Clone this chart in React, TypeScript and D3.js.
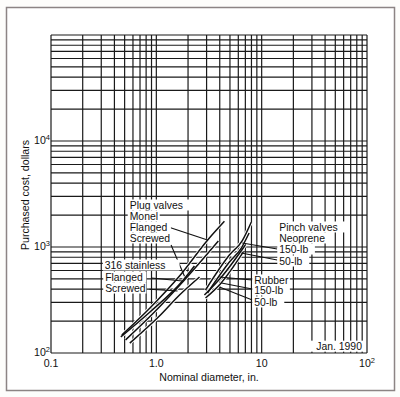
import React from "react";
import * as d3 from "d3";

const W = 400, H = 397;
const M = { left: 51, right: 33, top: 35, bottom: 44 };
const xDomain = [0.1, 100];
const yDomain = [100, 100000];

const monelFlanged: [number, number][] = [[0.47,148],[0.87,266],[1.66,532],[3.06,1160],[4.43,1750]];
const monelScrewed: [number, number][] = [[0.51,133],[0.96,244],[1.85,489],[3.88,1140]];
const ssFlanged: [number, number][] = [[0.46,142],[0.87,244],[1.77,478],[2.3,662]];
const ssScrewed: [number, number][] = [[0.56,124],[1.07,223],[1.66,352],[2.57,521]];
const neo150: [number, number][] = [[2.93,393],[4.94,840],[6.55,1150],[7.98,1722]];
const neo50: [number, number][] = [[3.06,368],[4.94,721],[6.41,978],[7.6,1355]];
const rub150: [number, number][] = [[2.86,352],[4.15,521],[7.0,1045]];
const rub50: [number, number][] = [[2.93,330],[4.05,448],[6.7,898]];
const series = [monelFlanged, monelScrewed, ssFlanged, ssScrewed, neo150, neo50, rub150, rub50];

// labels: text, x (data), y (data), anchor
const labelText = ["Plug valves","Monel","Flanged","Screwed","316 stainless","Flanged","Screwed","Pinch valves","Neoprene","150-lb","50-lb","Rubber","150-lb","50-lb","Jan. 1990"];
const labelX = [0.559,0.559,0.559,0.559,0.324,0.327,0.327,14.7,14.7,14.7,14.7,8.51,8.51,8.51,89.5];
const labelY = [2490,1961,1545,1217,676,521,410,1545,1217,957,738,489,393,303,116];
const labelAnchor = ["start","start","start","start","start","start","start","start","start","start","start","start","start","start","end"];

// leaders: [x0,y0,x1,y1] in data units
const leaders: [number, number, number, number][] = [
  [1.3,1545,3.06,1164],
  [1.38,1045,1.85,530],
  [0.9,510,1.77,478],
  [0.86,400,1.59,385],
  [14.05,957,6.55,1092],
  [14.05,753,6.41,878],
  [8.15,489,3.97,521],
  [8.15,402,4.15,457],
  [8.15,316,3.97,420],
];

const xTicks = [0.1, 1, 10, 100];
const xTickLabels = ["0.1", "1.0", "10", "10|2"];
const yTicks = [100, 1000, 10000];
const yTickLabels = ["10|2", "10|3", "10|4"];

const FONT = "'Liberation Sans', Arial, Helvetica, sans-serif";

function gridValues(lo: number, hi: number) {
  const out: number[] = [];
  for (let e = Math.log10(lo); e < Math.log10(hi); e++) {
    for (let k = 1; k <= 9; k++) out.push(k * Math.pow(10, e));
  }
  out.push(hi);
  return out;
}

function SupText({ s, ...rest }: any) {
  const [base, sup] = s.split("|");
  return (
    <text {...rest}>
      {base}
      {sup !== undefined && (
        <tspan fontSize={7.5} dy={-4.5}>{sup}</tspan>
      )}
    </text>
  );
}

export default function App() {
  const x = d3.scaleLog().domain(xDomain).range([M.left, W - M.right]);
  const y = d3.scaleLog().domain(yDomain).range([H - M.bottom, M.top]);
  const line = d3.line<[number, number]>()
    .x((d) => x(d[0]))
    .y((d) => y(d[1]))
    .curve(d3.curveMonotoneX);

  const gx = gridValues(0.1, 100);
  const gy = gridValues(100, 100000);
  const [x0, x1] = x.range();
  const [y0, y1] = y.range();

  return (
    <svg width={W} height={H} style={{ position: "fixed", left: 0, top: 0, background: "#fff" }}>
      <rect x={0} y={0} width={W} height={H} fill="#fdfdfb" />
      <rect x={6.5} y={7.5} width={388} height={383} fill="#fff" stroke="#8c8484" strokeWidth={1.5} />
      <g stroke="#1a1a1a" strokeWidth={1.2}>
        {gx.map((v, i) => (
          <line key={"gx" + i} x1={x(v)} x2={x(v)} y1={y1} y2={y0} />
        ))}
        {gy.map((v, i) => (
          <line key={"gy" + i} x1={x0} x2={x1} y1={y(v)} y2={y(v)} />
        ))}
      </g>
      <g fill="none">
        {series.map((s, i) => (
          <path key={"c" + i} d={line(s) || ""} stroke="#fff" strokeWidth={3.2} />
        ))}
        {series.map((s, i) => (
          <path key={"s" + i} d={line(s) || ""} stroke="#111" strokeWidth={1.5} />
        ))}
      </g>
      <g stroke="#111" strokeWidth={1.1}>
        {leaders.map((l, i) => (
          <line key={"l" + i} x1={x(l[0])} y1={y(l[1])} x2={x(l[2])} y2={y(l[3])} />
        ))}
      </g>
      <g fontFamily={FONT} fontSize={10.4} fill="#111">
        {labelText.map((t, i) => {
          const px = x(labelX[i]);
          const py = y(labelY[i]);
          const w = t.length * 5.6;
          const rx = labelAnchor[i] === "end" ? px - w - 2 : px - 2;
          return (
            <g key={"t" + i}>
              <rect x={rx} y={py - 5.5} width={w + 4} height={11} fill="#fff" />
              <text x={px} y={py + 3.7} textAnchor={labelAnchor[i] as any}>{t}</text>
            </g>
          );
        })}
      </g>
      <g fontFamily={FONT} fontSize={10.6} fill="#111">
        {xTicks.map((v, i) => (
          <SupText key={"xt" + i} s={xTickLabels[i]} x={x(v)} y={y0 + 14} textAnchor="middle" />
        ))}
        {yTicks.map((v, i) => (
          <SupText key={"yt" + i} s={yTickLabels[i]} x={34} y={y(v) + 3} textAnchor="start" />
        ))}
        <text x={209} y={381} textAnchor="middle">Nominal diameter, in.</text>
        <text transform={`translate(29,195) rotate(-90)`} textAnchor="middle">Purchased cost, dollars</text>
      </g>
    </svg>
  );
}
